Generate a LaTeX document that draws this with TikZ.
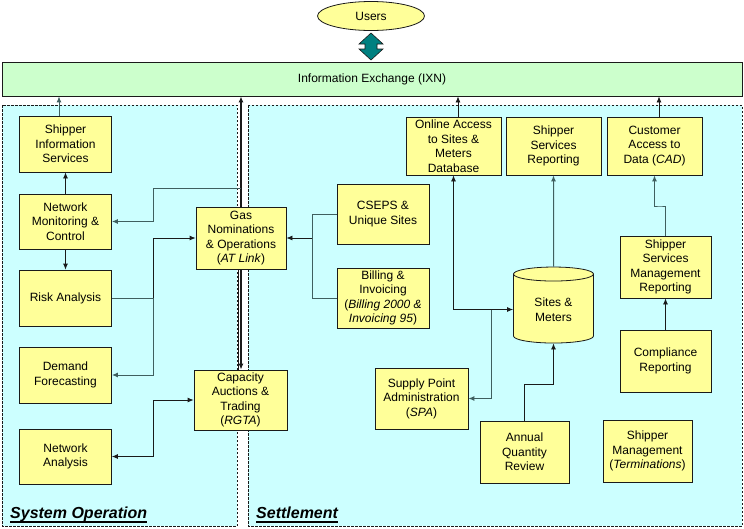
\documentclass[tikz,border=0pt]{standalone}
\usepackage{fontspec}
\setmainfont{Liberation Sans}
\usetikzlibrary{arrows.meta,shapes.geometric}
\definecolor{Box}{HTML}{FFFF99}
\definecolor{Pane}{HTML}{CCFFFF}
\definecolor{Exch}{HTML}{CCFFCC}
\definecolor{Teal}{HTML}{008080}
\definecolor{Ink}{HTML}{1A1A1A}
\definecolor{Wire}{HTML}{3F5F5F}
\pgfdeclarelayer{panes}
\pgfdeclarelayer{under}
\pgfsetlayers{panes,under,main}

\begin{document}
\begin{tikzpicture}[x=1pt,y=-1pt,
  box/.style={draw=Ink,fill=Box,line width=0.8pt,align=center,inner sep=1pt,
    font=\fontsize{12}{14.5}\selectfont},
  wire/.style={draw=Ink,line width=0.8pt},
  wireg/.style={draw=Wire,line width=1pt},
  tip/.style={-{Latex[length=6pt,width=5pt]}},
  tips/.style={{Latex[length=6pt,width=5pt]}-{Latex[length=6pt,width=5pt]}},
  pane/.style={fill=Pane,draw=Ink,line width=0.9pt,dash pattern=on 2.5pt off 1.5pt},
  area/.style={font=\fontsize{16}{18}\selectfont\bfseries\itshape,anchor=base west,inner sep=0pt}]
  \useasboundingbox (0,0) rectangle (744,528);
  % the two areas
  \begin{pgfonlayer}{panes}
    \path[pane] (2,105) rectangle (237,526);
    \path[pane] (248,105) rectangle (742,526);
  \end{pgfonlayer}

  \node[ellipse,draw=Ink,fill=Box,line width=0.8pt,minimum width=107pt,minimum height=29pt,
    inner sep=0pt,font=\fontsize{12}{14}\selectfont] (users) at (371,16) {Users};
  \node[draw=Ink,fill=Exch,line width=0.8pt,minimum width=740pt,minimum height=34pt,
    font=\fontsize{12}{14}\selectfont] (ixn) at (372,79) {Information Exchange (IXN)};
  % users <-> ixn
  \fill[Teal,draw=Ink,line width=0.6pt] (371,33) -- (383,44) -- (377,44) -- (377,49) -- (383,49)
    -- (371,60) -- (359,49) -- (365,49) -- (365,44) -- (359,44) -- cycle;

  % system operation
  \node[box,minimum width=92pt,minimum height=56pt] (sis) at (65.5,144) {Shipper\\Information\\Services};
  \node[box,minimum width=92pt,minimum height=55pt] (netmon) at (65.5,221.5) {Network\\Monitoring \&\\Control};
  \node[box,minimum width=92pt,minimum height=56pt] (risk) at (65.5,298) {Risk Analysis};
  \node[box,minimum width=92pt,minimum height=56pt] (demand) at (65.5,375) {Demand\\Forecasting};
  \node[box,minimum width=92pt,minimum height=55pt] (netana) at (65.5,456.5) {Network\\Analysis};
  \node[box,minimum width=90pt,minimum height=62pt] (gas) at (241,238) {Gas\\Nominations\\\& Operations\\(\textit{AT Link})};
  \node[box,minimum width=93pt,minimum height=60pt] (cap) at (240.5,400) {Capacity\\Auctions \&\\Trading\\(\textit{RGTA})};

  \coordinate (busL) at (153,300);
  \coordinate (trunk) at (241,188);
  \begin{pgfonlayer}{under}
    \draw[wire,line width=1.3pt,tips] (trunk |- ixn.south) -- (trunk |- cap.north);
    \draw[wire] ([xshift=-3pt]gas.south) -- ([xshift=-3pt]gas.south |- cap.north);
  \end{pgfonlayer}
  \draw[wireg,tip] (trunk) -- (trunk -| busL) |- (netmon.east);

  \coordinate (sisup) at ([xshift=-6.5pt]sis.north);
  \draw[wireg,tip] (sisup) -- (sisup |- ixn.south);
  \draw[wire,tip] (netmon.north) -- (sis.south);
  \draw[wire,tip] (netmon.south) -- (risk.north);
  \draw[wireg] (risk.east) -- (risk.east -| busL);
  \draw[wire,tip] (risk.east -| busL) |- (gas.west);
  \draw[wireg,tip] (risk.east -| busL) |- (demand.east);
  \draw[wire,tips] (netana.east) -- (netana.east -| busL) |- (cap.west);

  % settlement
  \node[box,minimum width=95pt,minimum height=58pt] (online) at (453.5,146) {Online Access\\to Sites \&\\Meters\\Database};
  \node[box,minimum width=95pt,minimum height=58pt] (ssr) at (553.5,146) {Shipper\\Services\\Reporting};
  \node[box,minimum width=95pt,minimum height=58pt] (cad) at (654.5,146) {Customer\\Access to\\Data (\textit{CAD})};
  \node[box,minimum width=92pt,minimum height=60pt] (cseps) at (383,214) {CSEPS \&\\Unique Sites};
  \node[box,minimum width=92pt,minimum height=60pt] (bill) at (383,298) {Billing \&\\Invoicing\\(\textit{Billing 2000 \&}\\\textit{Invoicing 95})};
  \node[box,cylinder,shape border rotate=90,aspect=0.35,minimum width=80pt,minimum height=76pt]
    (sites) at (553.5,309.5) {Sites \&\\Meters};
  \node[box,minimum width=93pt,minimum height=61pt] (spa) at (421.5,398.5) {Supply Point\\Administration\\(\textit{SPA})};
  \node[box,minimum width=89pt,minimum height=62pt] (aqr) at (524.5,452) {Annual\\Quantity\\Review};
  \node[box,minimum width=89pt,minimum height=62pt] (smgmt) at (647.5,451) {Shipper\\Management\\(\textit{Terminations})};
  \node[box,minimum width=91pt,minimum height=62pt] (ssmr) at (665.5,267) {Shipper\\Services\\Management\\Reporting};
  \node[box,minimum width=91pt,minimum height=62pt] (comp) at (665.5,361) {Compliance\\Reporting};

  \coordinate (busR) at (312,238);
  \coordinate (spabus) at (491,309);
  \coordinate (aqbend) at (553.5,384);
  \coordinate (cadbend) at (660,206);
  \draw[wireg] (cseps.west) -| (busR |- bill.west) -- (bill.west);
  \draw[wire,tip] (busR) -- (gas.east);
  \coordinate (olup) at ([xshift=4.5pt]online.north);
  \draw[wire,tip] (olup) -- (olup |- ixn.south);
  \coordinate (cadup) at ([xshift=4.5pt]cad.north);
  \draw[wire,tip] (cadup) -- (cadup |- ixn.south);
  \draw[wireg,tip] (sites.north) -- (ssr.south);
  \draw[wire,tips] (online.south) |- (sites.west);
  \draw[wireg,tip] (spabus |- sites.west) |- (spa.east);
  \draw[wire,tip] (aqr.north) |- (aqbend) -- (sites.south);
  \draw[wire,tip] (comp.north) -- (ssmr.south);
  \draw[wireg,tip] (ssmr.north) |- (cadbend) -| (cad.south);

  \node[area] (sysop) at (10,518) {System Operation};
  \draw[line width=2pt] ([yshift=-3.5pt]sysop.base west) -- ([yshift=-3.5pt]sysop.base east);
  \node[area] (settle) at (256,518) {Settlement};
  \draw[line width=2pt] ([yshift=-3.5pt]settle.base west) -- ([yshift=-3.5pt]settle.base east);
\end{tikzpicture}
\end{document}
